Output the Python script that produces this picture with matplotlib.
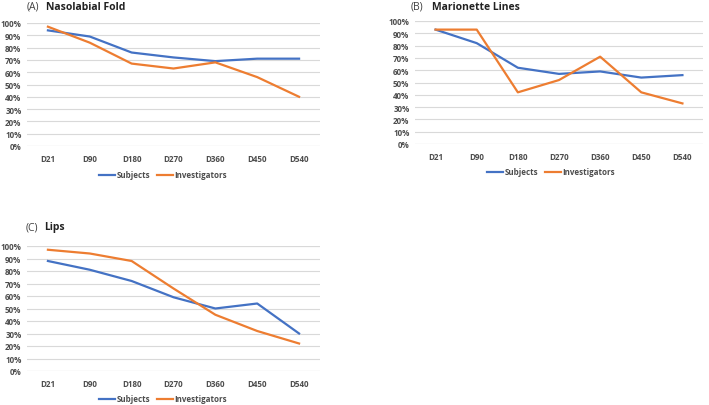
import matplotlib
matplotlib.use("Agg")
import matplotlib.pyplot as plt
from matplotlib.ticker import FuncFormatter

days = ["D21", "D90", "D180", "D270", "D360", "D450", "D540"]

naso_subjects = [94, 89, 76, 72, 69, 71, 71]
naso_investigators = [97, 84, 67, 63, 68, 56, 40]

mario_subjects = [93, 82, 62, 57, 59, 54, 56]
mario_investigators = [93, 93, 42, 52, 71, 42, 33]

lips_subjects = [88, 81, 72, 59, 50, 54, 30]
lips_investigators = [97, 94, 88, 66, 45, 32, 22]

panels = [
    ("(A)", "Nasolabial Fold", naso_subjects, naso_investigators),
    ("(B)", "Marionette Lines", mario_subjects, mario_investigators),
    ("(C)", "Lips", lips_subjects, lips_investigators),
]

BLUE = "#4472C4"
ORANGE = "#ED7D31"
GRID = "#D9D9D9"
TXT = "#4D4D4D"

plt.rcParams["font.family"] = ["Open Sans", "DejaVu Sans"]
plt.rcParams["font.weight"] = "bold"
fig = plt.figure(figsize=(7.09, 4.06), dpi=100)

W, H = 709, 406
rects = [
    [27 / W, (H - 147) / H, 293 / W, 123 / H],
    [415 / W, (H - 145) / H, 288 / W, 123 / H],
    [27 / W, (H - 372) / H, 293 / W, 125 / H],
]
title_pos = [(27, 7), (411, 7), (26, 228)]
name_pos = [46, 432, 44]
legend_pos = [(163 / W, (H - 176) / H), (551 / W, (H - 173) / H), (163 / W, (H - 400) / H)]

for (lab, name, subj, inv), rect, tp, nx, lp in zip(panels, rects, title_pos, name_pos, legend_pos):
    ax = fig.add_axes(rect)
    x = list(range(len(days)))
    l1, = ax.plot(x, subj, color=BLUE, lw=1.6, label="Subjects", solid_joinstyle="round")
    l2, = ax.plot(x, inv, color=ORANGE, lw=1.6, label="Investigators", solid_joinstyle="round")
    ax.set_xlim(-0.5, len(days) - 0.5)
    ax.set_ylim(0, 100)
    ax.set_yticks(range(0, 101, 10))
    ax.yaxis.set_major_formatter(FuncFormatter(lambda v, p: f"{int(v)}%"))
    ax.set_xticks(x)
    ax.set_xticklabels(days)
    for s in ax.spines.values():
        s.set_visible(False)
    ax.grid(axis="y", color=GRID, lw=0.8)
    ax.set_axisbelow(True)
    ax.tick_params(axis="both", length=0, labelsize=5.8, labelcolor=TXT)
    ax.tick_params(axis="y", pad=4)
    ax.tick_params(axis="x", pad=6)
    ax.axhline(0, color=GRID, lw=0.8, zorder=0.5)
    ax.axhline(100, color=GRID, lw=0.8, zorder=0.5)

    fig.text(tp[0] / W, (H - tp[1]) / H, lab, fontsize=7.5, va="center", ha="left",
             color="#404040", fontweight="normal")
    fig.text(nx / W, (H - tp[1]) / H, name, fontsize=7.5, fontweight="bold",
             va="center", ha="left", color="#222222")

    fig.legend(handles=[l1, l2], loc="center", bbox_to_anchor=lp, ncol=2, frameon=False,
               handlelength=2.0, handletextpad=0.1, columnspacing=0.9,
               prop={"weight": "bold", "size": 5.8}, labelcolor=TXT)

fig.savefig("out.png", dpi=100)
